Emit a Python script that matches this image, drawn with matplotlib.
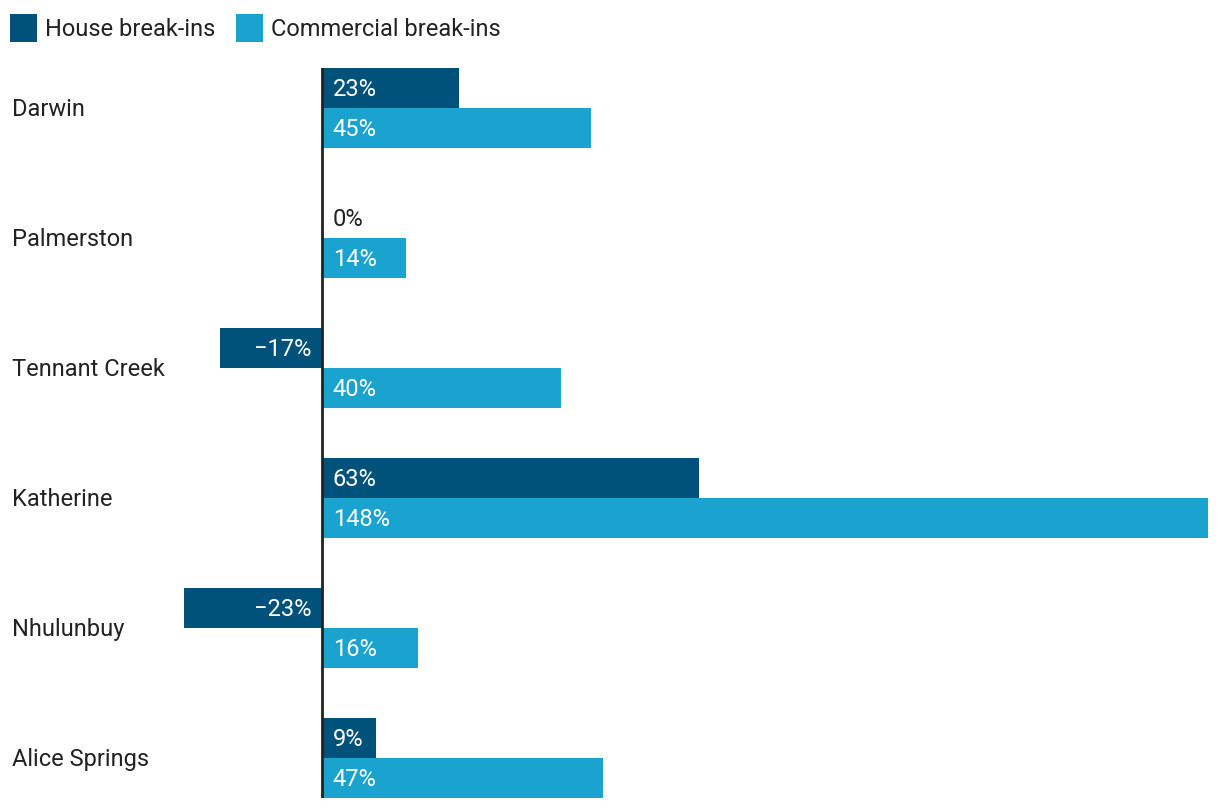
import matplotlib
matplotlib.use("Agg")
import matplotlib.pyplot as plt
from matplotlib.patches import Rectangle

plt.rcParams['font.family'] = ['Roboto', 'DejaVu Sans']

categories = ["Darwin", "Palmerston", "Tennant Creek", "Katherine", "Nhulunbuy", "Alice Springs"]
house = [23, 0, -17, 63, -23, 9]
commercial = [45, 14, 40, 148, 16, 47]
series_names = ["House break-ins", "Commercial break-ins"]
colors = ["#01527a", "#1aa3cf"]

W, H = 1220, 810
fig = plt.figure(figsize=(W / 100, H / 100), dpi=100)
ax_left, ax_right = 184 / W, 1208 / W
ax_top, ax_bot = 68, 798
ax = fig.add_axes([ax_left, (H - ax_bot) / H, ax_right - ax_left, (ax_bot - ax_top) / H])

xmin = min(min(house), min(commercial))
xmax = max(max(house), max(commercial))
ax.set_xlim(xmin, xmax)
ax.set_ylim(730, 0)
ax.axis('off')

pitch, bh = 130, 40
fs = 17
dy = -1.5
for i, cat in enumerate(categories):
    for j, vals in enumerate([house, commercial]):
        v = vals[i]
        yc = i * pitch + bh / 2 + j * bh
        ax.barh(yc, v, height=bh, color=colors[j], linewidth=0)
        txt = f"{v}%" if v >= 0 else f"\u2212{abs(v)}%"
        if v > 0:
            ax.annotate(txt, (0, yc), xytext=(11, dy), textcoords='offset pixels',
                        ha='left', va='center', color='white', fontsize=fs)
        elif v < 0:
            ax.annotate(txt, (0, yc), xytext=(-10, dy), textcoords='offset pixels',
                        ha='right', va='center', color='white', fontsize=fs)
        else:
            ax.annotate(txt, (0, yc), xytext=(11, dy), textcoords='offset pixels',
                        ha='left', va='center', color='#222222', fontsize=fs)
    # category label
    fig.text(12 / W, (H - (ax_top + i * pitch + bh) + dy) / H, cat, ha='left', va='center',
             fontsize=fs, color='#222222')

ax.axvline(0, color='#222222', linewidth=2, zorder=5)

# legend
lx = 10
for j, name in enumerate(series_names):
    fig.patches.append(Rectangle((lx / W, (H - 42) / H), 27 / W, 28 / H,
                                 transform=fig.transFigure, color=colors[j], linewidth=0))
    t = fig.text((lx + 35) / W, (H - 28 + dy) / H, name, ha='left', va='center',
                 fontsize=fs, color='#222222')
    fig.canvas.draw()
    bb = t.get_window_extent()
    lx = bb.x1 + 21

fig.savefig("out.png", dpi=100, facecolor='white')
